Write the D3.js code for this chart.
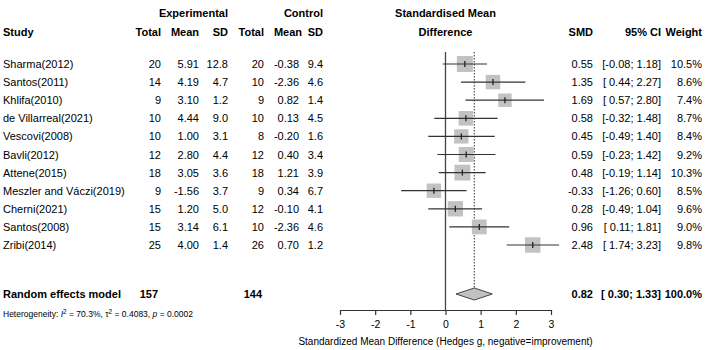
<!DOCTYPE html>
<html>
<head>
<meta charset="utf-8">
<script src="https://cdn.jsdelivr.net/npm/d3@7"></script>
<style>
  body { margin: 0; background: #fff; }
  text { font-family: "Liberation Sans", Arial, sans-serif; fill: #000; }
</style>
</head>
<body>
<div id="forest"></div>
<script>
// data
let studies = ["Sharma(2012)", "Santos(2011)", "Khlifa(2010)", "de Villarreal(2021)", "Vescovi(2008)",
  "Bavli(2012)", "Attene(2015)", "Meszler and Váczi(2019)", "Cherni(2021)", "Santos(2008)", "Zribi(2014)"];
let expTotal = [20, 14, 9, 10, 10, 12, 18, 9, 15, 15, 25];
let expMean = ["5.91", "4.19", "3.10", "4.44", "1.00", "2.80", "3.05", "-1.56", "1.20", "3.14", "4.00"];
let expSD = ["12.8", "4.7", "1.2", "9.0", "3.1", "4.4", "3.6", "3.7", "5.0", "6.1", "1.4"];
let ctlTotal = [20, 10, 9, 10, 8, 12, 18, 9, 12, 10, 26];
let ctlMean = ["-0.38", "-2.36", "0.82", "0.13", "-0.20", "0.40", "1.21", "0.34", "-0.10", "-2.36", "0.70"];
let ctlSD = ["9.4", "4.6", "1.4", "4.5", "1.6", "3.4", "3.9", "6.7", "4.1", "4.6", "1.2"];
let smd = [0.55, 1.35, 1.69, 0.58, 0.45, 0.59, 0.48, -0.33, 0.28, 0.96, 2.48];
let ciLow = [-0.08, 0.44, 0.57, -0.32, -0.49, -0.23, -0.19, -1.26, -0.49, 0.11, 1.74];
let ciHigh = [1.18, 2.27, 2.80, 1.48, 1.40, 1.42, 1.14, 0.60, 1.04, 1.81, 3.23];
let weight = [10.5, 8.6, 7.4, 8.7, 8.4, 9.2, 10.3, 8.5, 9.6, 9.0, 9.8];

let pooled = {smd: 0.82, lo: 0.30, hi: 1.33, expN: 157, ctlN: 144};
let axisTicks = [-3, -2, -1, 0, 1, 2, 3];

// plain hyphen for negatives, like the original
function fmt2(v) { return v.toFixed(2); }
function ciText(lo, hi) {
    let a = lo < 0 ? fmt2(lo) : " " + fmt2(lo);
    return "[" + a + "; " + fmt2(hi) + "]";
}

const width = 708, height = 350;
let svg = d3.select("#forest").append("svg")
    .attr("width", width).attr("height", height)
    .style("font-size", "11px");

let x = d3.scaleLinear().domain([-3, 3]).range([340, 551]);
let y = d3.scaleLinear().domain([0, studies.length - 1]).range([64, 245]);
let box = d3.scaleSqrt().domain([0, 10.5]).range([0, 16]);
const yPool = 294, yAxis = 310;

// headers
let hdr = svg.append("g").attr("font-weight", "bold");
hdr.append("text").attr("x", 228).attr("y", 17).attr("text-anchor", "end").text("Experimental");
hdr.append("text").attr("x", 323).attr("y", 17).attr("text-anchor", "end").text("Control");
hdr.append("text").attr("x", x(0)).attr("y", 17).attr("text-anchor", "middle").text("Standardised Mean");
hdr.append("text").attr("x", x(0)).attr("y", 36).attr("text-anchor", "middle").text("Difference");
hdr.append("text").attr("x", 3).attr("y", 36).text("Study");
let cols = [["Total", 161], ["Mean", 199], ["SD", 228], ["Total", 264], ["Mean", 302], ["SD", 323],
    ["SMD", 593], ["95% CI", 661], ["Weight", 702]];
cols.forEach(c => {
    hdr.append("text").attr("x", c[1]).attr("y", 36).attr("text-anchor", "end").text(c[0]);
});

// table rows
let rows = svg.append("g").selectAll("g")
    .data(studies)
    .join("g")
    .attr("transform", (d, i) => `translate(0,${y(i) + 4})`);
rows.append("text").attr("x", 3).text(d => d);
let cells = [[expTotal, 161], [expMean, 199], [expSD, 228], [ctlTotal, 264], [ctlMean, 299], [ctlSD, 323]];
cells.forEach(c => {
    rows.append("text").attr("x", c[1]).attr("text-anchor", "end").text((d, i) => c[0][i]);
});
rows.append("text").attr("x", 593).attr("text-anchor", "end").text((d, i) => fmt2(smd[i]));
rows.append("text").attr("x", 661).attr("text-anchor", "end").style("white-space", "pre")
    .text((d, i) => ciText(ciLow[i], ciHigh[i]));
rows.append("text").attr("x", 702).attr("text-anchor", "end").text((d, i) => weight[i].toFixed(1) + "%");

// pooled row
let pool = svg.append("g").attr("font-weight", "bold").attr("transform", `translate(0,${yPool + 4})`);
pool.append("text").attr("x", 3).text("Random effects model");
pool.append("text").attr("x", 158).attr("text-anchor", "end").text(pooled.expN);
pool.append("text").attr("x", 262).attr("text-anchor", "end").text(pooled.ctlN);
pool.append("text").attr("x", 593).attr("text-anchor", "end").text(fmt2(pooled.smd));
pool.append("text").attr("x", 661).attr("text-anchor", "end").style("white-space", "pre")
    .text(ciText(pooled.lo, pooled.hi));
pool.append("text").attr("x", 702).attr("text-anchor", "end").text("100.0%");

// heterogeneity
let het = svg.append("text").attr("x", 3).attr("y", 317).style("font-size", "8.5px");
het.append("tspan").text("Heterogeneity: ");
het.append("tspan").style("font-style", "italic").text("I");
het.append("tspan").attr("dy", -3).style("font-size", "6.5px").text("2");
het.append("tspan").attr("dy", 3).text(" = 70.3%, \u03c4");
het.append("tspan").attr("dy", -3).style("font-size", "6.5px").text("2");
het.append("tspan").attr("dy", 3).text(" = 0.4083, ");
het.append("tspan").style("font-style", "italic").text("p");
het.append("tspan").text(" = 0.0002");

// plot: reference lines
let plot = svg.append("g");
plot.append("line")
    .attr("x1", x(0)).attr("x2", x(0)).attr("y1", 52).attr("y2", yAxis)
    .attr("stroke", "#444").attr("stroke-width", 1.3);
plot.append("line")
    .attr("x1", x(pooled.smd)).attr("x2", x(pooled.smd)).attr("y1", 52).attr("y2", yPool - 6)
    .attr("stroke", "#555").attr("stroke-width", 1.2).attr("stroke-dasharray", "1.5,1.5");

// study boxes + CIs
let marks = plot.selectAll("g.study")
    .data(studies)
    .join("g").attr("class", "study");
marks.append("rect")
    .attr("x", (d, i) => x(smd[i]) - box(weight[i]) / 2)
    .attr("y", (d, i) => y(i) - box(weight[i]) / 2)
    .attr("width", (d, i) => box(weight[i]))
    .attr("height", (d, i) => box(weight[i]))
    .attr("fill", "#c2c2c2");
marks.append("line")
    .attr("x1", (d, i) => x(ciLow[i])).attr("x2", (d, i) => x(ciHigh[i]))
    .attr("y1", (d, i) => y(i)).attr("y2", (d, i) => y(i))
    .attr("stroke", "#333").attr("stroke-width", 1.2);
marks.append("line")
    .attr("x1", (d, i) => x(smd[i])).attr("x2", (d, i) => x(smd[i]))
    .attr("y1", (d, i) => y(i) - 3).attr("y2", (d, i) => y(i) + 3)
    .attr("stroke", "#222").attr("stroke-width", 1.3);

// diamond
plot.append("path")
    .attr("d", d3.line()([[x(pooled.lo), yPool], [x(pooled.smd), yPool - 6],
        [x(pooled.hi), yPool], [x(pooled.smd), yPool + 6]]) + "Z")
    .attr("fill", "#c2c2c2").attr("stroke", "#444").attr("stroke-width", 1);

// axis
let ax = svg.append("g").attr("transform", `translate(0,${yAxis})`)
    .call(d3.axisBottom(x).tickValues(axisTicks).tickFormat(d => String(d)).tickSize(5).tickSizeOuter(0));
ax.select(".domain").attr("stroke", "#333").attr("stroke-width", 1.2);
ax.selectAll(".tick line").attr("stroke", "#333").attr("stroke-width", 1.2);
ax.selectAll(".tick text").attr("font-family", "Liberation Sans, Arial, sans-serif")
    .style("font-size", "10.5px").attr("y", 11).attr("fill", "#000");

svg.append("text").attr("x", x(0)).attr("y", 345).attr("text-anchor", "middle")
    .style("font-size", "10px")
    .text("Standardized Mean Difference (Hedges g, negative=improvement)");
</script>
</body>
</html>
